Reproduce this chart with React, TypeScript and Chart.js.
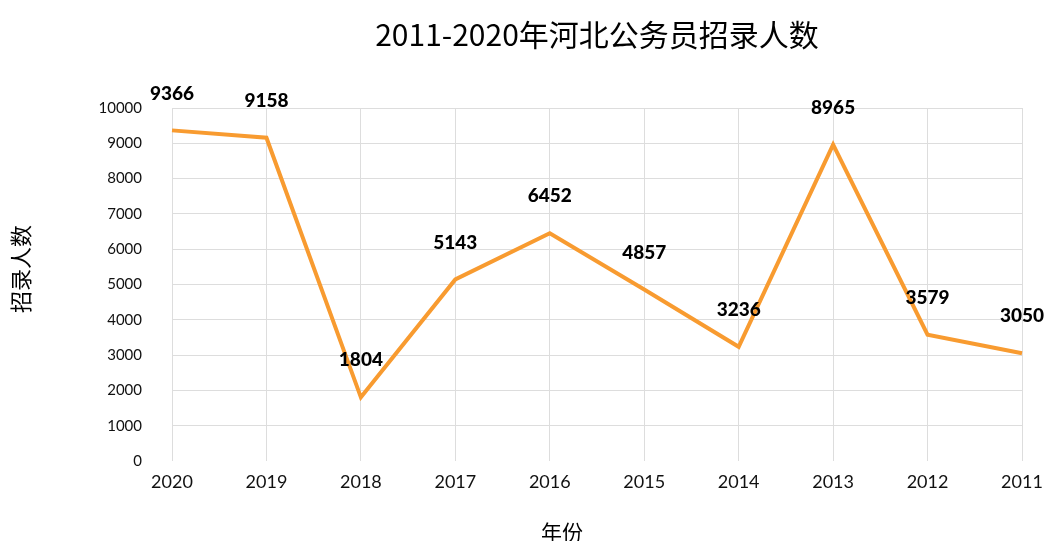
import React, { useEffect, useRef } from "react";
import { Chart, registerables } from "chart.js";

Chart.register(...registerables);

const years = ["2020", "2019", "2018", "2017", "2016", "2015", "2014", "2013", "2012", "2011"];
const recruits = [9366, 9158, 1804, 5143, 6452, 4857, 3236, 8965, 3579, 3050];
const titleText = "2011-2020年河北公务员招录人数";
const yTitle = "招录人数";
const xTitle = "年份";

const labelPlugin = {
  id: "customText",
  afterDatasetsDraw(chart: any) {
    const ctx = chart.ctx;
    const meta = chart.getDatasetMeta(0);
    ctx.save();
    ctx.fillStyle = "#000";
    ctx.font = "900 19px Lato";
    ctx.textAlign = "center";
    ctx.textBaseline = "middle";
    meta.data.forEach((pt: any, i: number) => {
      ctx.fillText(String(recruits[i]), pt.x, pt.y - 37);
    });
    // title
    const ca = chart.chartArea;
    ctx.font = "30px 'Noto Sans CJK SC'";
    ctx.fillText(titleText, (ca.left + ca.right) / 2, 27);
    // x title
    ctx.font = "21px 'Noto Sans CJK SC'";
    ctx.fillText(xTitle, 554, 524);
    // y title
    ctx.translate(13, 261);
    ctx.rotate(-Math.PI / 2);
    ctx.font = "22px 'Noto Sans CJK SC'";
    ctx.fillText(yTitle, 0, 0);
    ctx.restore();
  },
};

export default function App() {
  const ref = useRef<HTMLCanvasElement>(null);
  useEffect(() => {
    if (!ref.current) return;
    const chart = new Chart(ref.current, {
      type: "line",
      data: {
        labels: years,
        datasets: [
          {
            data: recruits,
            borderColor: "#f89b30",
            borderWidth: 4,
            pointRadius: 0,
            tension: 0,
            fill: false,
          },
        ],
      },
      options: {
        animation: false,
        responsive: false,
        layout: { padding: { left: 0, right: 26, top: 100, bottom: 0 } },
        plugins: { legend: { display: false }, title: { display: false }, tooltip: { enabled: false } },
        scales: {
          x: {
            offset: false,
            grid: { color: "#dddddd", lineWidth: 1, drawTicks: false },
            border: { display: false },
            ticks: { color: "#111", font: { family: "Lato", size: 18 }, padding: 10, maxRotation: 0 },
            afterFit: (s: any) => {
              s.height = 80;
              s.paddingLeft = 0;
              s.paddingRight = 0;
            },
          },
          y: {
            min: 0,
            max: 10000,
            grid: {
              color: (c: any) => (c.tick && c.tick.value === 0 ? "rgba(0,0,0,0)" : "#dddddd"),
              drawTicks: false,
            },
            border: { display: false },
            ticks: {
              stepSize: 1000,
              color: "#111",
              font: { family: "Lato", size: 15 },
              padding: 30,
              callback: (v: any) => String(v),
            },
            afterFit: (s: any) => {
              s.width = 164;
            },
          },
        },
      },
      plugins: [labelPlugin],
    });
    return () => chart.destroy();
  }, []);
  return (
    <div style={{ width: 1040, height: 533 }}>
      <canvas ref={ref} width={1040} height={533} />
    </div>
  );
}
